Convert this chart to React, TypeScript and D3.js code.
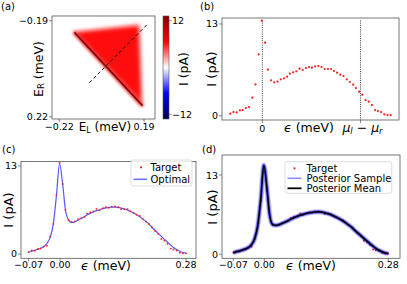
import React from "react";
import * as d3 from "d3";

// ---------- data ----------
const eps = [
  -0.070, -0.063, -0.056, -0.049, -0.043, -0.036, -0.029, -0.022, -0.015, -0.008,
  -0.001, 0.006, 0.012, 0.019, 0.026, 0.033, 0.040, 0.047, 0.054, 0.060,
  0.067, 0.074, 0.081, 0.088, 0.095, 0.102, 0.108, 0.115, 0.122, 0.129,
  0.136, 0.143, 0.150, 0.156, 0.163, 0.170, 0.177, 0.184, 0.191, 0.198,
  0.204, 0.211, 0.218, 0.225, 0.232, 0.239, 0.246, 0.252, 0.259, 0.266,
  0.273, 0.280,
];
const target = [
  0.28, 0.52, 0.47, 0.76, 0.80, 1.09, 1.23, 2.55, 4.44, 8.70,
  13.47, 10.35, 6.52, 5.01, 4.73, 4.82, 5.15, 5.30, 5.53, 5.96,
  6.15, 6.29, 6.67, 6.48, 6.76, 6.90, 6.81, 7.00, 7.04, 6.90,
  6.62, 6.62, 6.62, 6.34, 6.10, 5.82, 5.63, 5.15, 4.78, 4.40,
  3.92, 3.40, 2.98, 2.22, 1.99, 1.51, 0.80, 0.66, 0.52, 0.19,
  0.09, 0.09,
];
const optimal = [
  0.25, 0.40, 0.55, 0.70, 0.85, 1.10, 1.55, 2.45, 4.40, 8.60,
  13.35, 10.20, 6.50, 5.00, 4.65, 4.75, 5.00, 5.25, 5.50, 5.75,
  6.00, 6.20, 6.40, 6.55, 6.70, 6.80, 6.88, 6.92, 6.92, 6.88,
  6.78, 6.65, 6.48, 6.28, 6.05, 5.80, 5.50, 5.15, 4.78, 4.38,
  3.95, 3.50, 3.05, 2.60, 2.15, 1.72, 1.30, 0.95, 0.65, 0.40,
  0.22, 0.12,
];
const posteriorMean = [
  0.25, 0.40, 0.55, 0.70, 0.85, 1.10, 1.55, 2.50, 4.60, 9.00,
  14.60, 10.80, 6.50, 4.85, 4.75, 4.85, 5.05, 5.28, 5.52, 5.76,
  6.00, 6.20, 6.40, 6.55, 6.70, 6.80, 6.88, 6.94, 6.96, 6.92,
  6.82, 6.68, 6.50, 6.30, 6.06, 5.80, 5.50, 5.15, 4.78, 4.38,
  3.95, 3.50, 3.05, 2.60, 2.15, 1.72, 1.30, 0.95, 0.65, 0.40,
  0.22, 0.12,
];
const biasWindow = 0.214; // mu_l - mu_r (meV)

// heat map geometry (meV)
const triangleEL = [-0.149, 0.166, 0.180];
const triangleER = [-0.142, -0.172, 0.166];
const resonanceEL = [-0.144, 0.180];
const resonanceER = [-0.1375, 0.170];
const cutEL = [-0.075, 0.211];
const cutER = [0.075, -0.179];
const triangleCurrent = 6.2;
const resonanceCurrent = 13;
const cbMax = 13.2;

const colorbarTicks = [12, -12];
const eLTicks = [-0.22, 0.19];
const eRTicks = [-0.19, 0.22];
const epsTicks = [-0.07, 0.0, 0.28];
const currentTicks = [0, 13];

const FONT = "DejaVu Sans, sans-serif";
const SPINE = "#555";

const fmt2 = (v: number) => (v < 0 ? "\u2212" : "") + Math.abs(v).toFixed(2);

export default function App() {
  // scales
  const aX = d3.scaleLinear().domain([-0.2553, 0.2432]).range([52, 155]);
  const aY = d3.scaleLinear().domain([-0.2101, 0.2298]).range([16, 119]);
  const cbY = d3.scaleLinear().domain([-cbMax, cbMax]).range([119, 16]);
  const color = d3
    .scaleLinear<string>()
    .domain([-cbMax, -cbMax / 2, 0, cbMax / 2, cbMax])
    .range(["#00004c", "#0000ff", "#ffffff", "#ff0000", "#800000"]);

  const bX = d3.scaleLinear().domain([-0.088, 0.298]).range([222, 399]);
  const bY = d3.scaleLinear().domain([-0.61, 13.85]).range([120, 18]);
  const cX = d3.scaleLinear().domain([-0.0867, 0.302]).range([21, 196]);
  const cY = d3.scaleLinear().domain([-0.64, 13.66]).range([258.3, 161.5]);
  const dX = d3.scaleLinear().domain([-0.0955, 0.3064]).range([222, 400]);
  const dY = d3.scaleLinear().domain([-0.66, 16.28]).range([258.3, 155]);

  const lineOf = (xs: d3.ScaleLinear<number, number>, ys: d3.ScaleLinear<number, number>, vals: number[]) =>
    d3
      .line<number>()
      .x((_, i) => xs(eps[i]))
      .y((v) => ys(v))
      .curve(d3.curveMonotoneX)(vals) || "";

  const triPts = triangleEL.map((e, i) => `${aX(e)},${aY(triangleER[i])}`).join(" ");

  const frame = (xs: d3.ScaleLinear<number, number>, ys: d3.ScaleLinear<number, number>) => {
    const [x0, x1] = xs.range();
    const [y0, y1] = ys.range();
    const top = Math.min(y0, y1);
    const h = Math.abs(y1 - y0);
    return <rect x={x0} y={top} width={x1 - x0} height={h} fill="none" stroke={SPINE} strokeWidth={0.8} />;
  };

  const yTicks = (xs: d3.ScaleLinear<number, number>, ys: d3.ScaleLinear<number, number>, vals: number[], f: (v: number) => string) => {
    const x0 = xs.range()[0];
    return vals.map((v) => (
      <g key={"yt" + v}>
        <line x1={x0 - 3} x2={x0} y1={ys(v)} y2={ys(v)} stroke={SPINE} strokeWidth={0.7} />
        <text x={x0 - 4} y={ys(v)} textAnchor="end" dominantBaseline="central" fontSize={9.5}>
          {f(v)}
        </text>
      </g>
    ));
  };

  const xTicks = (xs: d3.ScaleLinear<number, number>, ys: d3.ScaleLinear<number, number>, vals: number[], f: (v: number) => string, base: number) => {
    const yb = Math.max(...ys.range());
    return vals.map((v) => (
      <g key={"xt" + v}>
        <line x1={xs(v)} x2={xs(v)} y1={yb} y2={yb + 3} stroke={SPINE} strokeWidth={0.7} />
        <text x={xs(v)} y={base} textAnchor="middle" fontSize={9.5}>
          {f(v)}
        </text>
      </g>
    ));
  };

  const yLabel = (x: number, y: number) => (
    <text transform={`translate(${x},${y}) rotate(-90)`} textAnchor="middle" dominantBaseline="central" fontSize={13}>
      I (pA)
    </text>
  );

  const epsLabel = (x: number, y: number) => (
    <text x={x} y={y} textAnchor="middle" fontSize={12.5}>
      <tspan fontStyle="italic">ϵ</tspan> (meV)
    </text>
  );

  const bandLayers = [
    { w: 5.6, o: 0.14 },
    { w: 4.2, o: 0.28 },
    { w: 2.9, o: 0.55 },
  ];

  const cbStops = color.domain().map((v) => ({ off: (v + cbMax) / (2 * cbMax), c: color(v) }));

  return (
    <svg width={407} height={284} style={{ position: "absolute", left: 0, top: 0, background: "#fff" }} fontFamily={FONT}>
      <defs>
        <clipPath id="clipA">
          <rect x={52} y={16} width={103} height={103} />
        </clipPath>
        <filter id="blurTri" x="-25%" y="-25%" width="150%" height="150%">
          <feGaussianBlur stdDeviation={2.3} />
        </filter>
        <filter id="blurWide" x="-20%" y="-20%" width="140%" height="140%">
          <feGaussianBlur stdDeviation={1.5} />
        </filter>
        <filter id="blurLine" x="-20%" y="-20%" width="140%" height="140%">
          <feGaussianBlur stdDeviation={0.45} />
        </filter>
        <linearGradient id="cbGrad" x1="0" y1="1" x2="0" y2="0">
          {cbStops.map((s) => (
            <stop key={s.off} offset={s.off} stopColor={s.c} />
          ))}
        </linearGradient>
      </defs>

      {/* ---------- panel (a) ---------- */}
      <text x={1} y={10} fontSize={10}>(a)</text>
      <g clipPath="url(#clipA)">
        <rect x={52} y={16} width={103} height={103} fill={color(0)} />
        <polygon points={triPts} fill={color(triangleCurrent)} filter="url(#blurTri)" />
        <line
          x1={aX(resonanceEL[0])} y1={aY(resonanceER[0])} x2={aX(resonanceEL[1])} y2={aY(resonanceER[1])}
          stroke={color(8)} strokeWidth={4} strokeLinecap="round" filter="url(#blurWide)" opacity={0.7}
        />
        <line
          x1={aX(resonanceEL[0])} y1={aY(resonanceER[0])} x2={aX(resonanceEL[1])} y2={aY(resonanceER[1])}
          stroke={color(resonanceCurrent)} strokeWidth={1.8} strokeLinecap="round" filter="url(#blurLine)"
        />
        <line
          x1={aX(cutEL[0])} y1={aY(cutER[0])} x2={aX(cutEL[1])} y2={aY(cutER[1])}
          stroke="#111" strokeWidth={1} strokeDasharray="3.5,2.5"
        />
      </g>
      {frame(aX, aY)}
      {yTicks(aX, aY, eRTicks, fmt2)}
      {xTicks(aX, aY, eLTicks, fmt2, 130)}
      <text x={105} y={130.5} textAnchor="middle" fontSize={12}>
        E<tspan fontSize={8} dy={2.5}>L</tspan>
        <tspan dy={-2.5}> (meV)</tspan>
      </text>
      <text transform="translate(38,69) rotate(-90)" textAnchor="middle" dominantBaseline="central" fontSize={12.5}>
        E<tspan fontSize={8.5} dy={2.5}>R</tspan>
        <tspan dy={-2.5}> (meV)</tspan>
      </text>
      {/* colorbar */}
      <rect x={163} y={16} width={6} height={103} fill="url(#cbGrad)" stroke={SPINE} strokeWidth={0.6} />
      {colorbarTicks.map((v) => (
        <g key={"cb" + v}>
          <line x1={169} x2={171.5} y1={cbY(v)} y2={cbY(v)} stroke={SPINE} strokeWidth={0.7} />
          <text x={172} y={cbY(v)} dominantBaseline="central" fontSize={9.5}>
            {(v < 0 ? "\u2212" : "") + Math.abs(v)}
          </text>
        </g>
      ))}
      <text transform="translate(183,69) rotate(-90)" textAnchor="middle" dominantBaseline="central" fontSize={12.5}>
        I (pA)
      </text>

      {/* ---------- panel (b) ---------- */}
      <text x={200} y={10} fontSize={10}>(b)</text>
      {[0, biasWindow].map((v) => (
        <line key={"vl" + v} x1={bX(v)} x2={bX(v)} y1={bY(13.5)} y2={bY(-0.61)} stroke="#222" strokeWidth={0.9} strokeDasharray="1,1.2" />
      ))}
      {target.map((v, i) => (
        <circle key={"bp" + i} cx={bX(eps[i])} cy={bY(v)} r={1.1} fill="#ff1a1a" />
      ))}
      {frame(bX, bY)}
      {yTicks(bX, bY, currentTicks, (v) => String(v))}
      <line x1={bX(0)} x2={bX(0)} y1={120} y2={123} stroke={SPINE} strokeWidth={0.7} />
      <line x1={bX(biasWindow)} x2={bX(biasWindow)} y1={120} y2={123} stroke={SPINE} strokeWidth={0.7} />
      <text x={bX(0)} y={131.5} textAnchor="middle" fontSize={9.5}>0</text>
      <text x={bX(biasWindow) + 2} y={131.5} textAnchor="middle" fontSize={12.5} fontStyle="italic">
        μ<tspan fontSize={8.5} dy={2.5}>l</tspan>
        <tspan dy={-2.5} fontStyle="normal"> − </tspan>μ<tspan fontSize={8.5} dy={2.5}>r</tspan>
      </text>
      {epsLabel(309, 131.5)}
      {yLabel(211, 69)}

      {/* ---------- panel (c) ---------- */}
      <text x={2} y={152.5} fontSize={10}>(c)</text>
      <path d={lineOf(cX, cY, optimal)} fill="none" stroke="#3a3aff" strokeWidth={1.2} strokeOpacity={0.85} />
      {target.map((v, i) => (
        <circle key={"cp" + i} cx={cX(eps[i])} cy={cY(v)} r={0.9} fill="#ff1a1a" />
      ))}
      {frame(cX, cY)}
      {yTicks(cX, cY, currentTicks, (v) => String(v))}
      {xTicks(cX, cY, epsTicks, fmt2, 268)}
      {epsLabel(106, 269.5)}
      {yLabel(8, 210)}
      <g>
        <rect x={131} y={160} width={61} height={26} rx={2} fill="#fff" fillOpacity={0.85} stroke="#d0d0d0" strokeWidth={0.7} />
        <circle cx={141} cy={167.3} r={1.1} fill="#ff1a1a" />
        <text x={150.5} y={167.3} dominantBaseline="central" fontSize={10}>Target</text>
        <line x1={133.5} x2={147} y1={179.3} y2={179.3} stroke="#5a5aff" strokeWidth={1.6} strokeOpacity={0.85} />
        <text x={150.5} y={179.3} dominantBaseline="central" fontSize={10}>Optimal</text>
      </g>

      {/* ---------- panel (d) ---------- */}
      <text x={202} y={152.5} fontSize={10}>(d)</text>
      {target.map((v, i) => (
        <circle key={"dp" + i} cx={dX(eps[i])} cy={dY(v)} r={1} fill="#ff1a1a" />
      ))}
      {bandLayers.map((b, i) => (
        <path key={"band" + i} d={lineOf(dX, dY, posteriorMean)} fill="none" stroke="#1c1cf0" strokeWidth={b.w} strokeOpacity={b.o} strokeLinejoin="round" />
      ))}
      <path d={lineOf(dX, dY, posteriorMean)} fill="none" stroke="#000" strokeWidth={1.6} strokeLinejoin="round" />
      {frame(dX, dY)}
      {yTicks(dX, dY, currentTicks, (v) => String(v))}
      {xTicks(dX, dY, epsTicks, fmt2, 268)}
      {epsLabel(311, 269.5)}
      {yLabel(212, 207)}
      <g>
        <rect x={285} y={161.7} width={106.7} height={31.6} rx={2} fill="#fff" fillOpacity={0.85} stroke="#d0d0d0" strokeWidth={0.7} />
        <circle cx={294.5} cy={168.3} r={1.1} fill="#ff1a1a" />
        <text x={306.5} y={168.3} dominantBaseline="central" fontSize={10}>Target</text>
        <line x1={287.5} x2={301.5} y1={178.3} y2={178.3} stroke="#8c8cff" strokeWidth={1.6} />
        <text x={306.5} y={178.3} dominantBaseline="central" fontSize={10}>Posterior Sample</text>
        <line x1={287.5} x2={301.5} y1={188.3} y2={188.3} stroke="#000" strokeWidth={1.8} />
        <text x={306.5} y={188.3} dominantBaseline="central" fontSize={10}>Posterior Mean</text>
      </g>
    </svg>
  );
}
